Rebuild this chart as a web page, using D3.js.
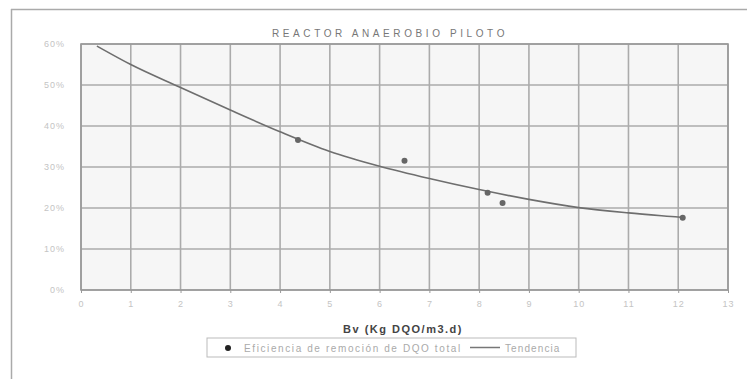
<!DOCTYPE html>
<html>
<head>
<meta charset="utf-8">
<script src="https://cdn.jsdelivr.net/npm/d3@7"></script>
<style>
  body { margin: 0; background: #fff; }
  text { font-family: "Liberation Sans", Arial, sans-serif; }
</style>
</head>
<body>
<div id="chart"></div>
<script>
// chart data
var xTicks = [0, 1, 2, 3, 4, 5, 6, 7, 8, 9, 10, 11, 12, 13];
var yTicks = [0, 10, 20, 30, 40, 50, 60];

// measured points: Bv vs removal efficiency (%)
var bv = [4.36, 6.5, 8.17, 8.47, 12.09];
var efficiency = [36.6, 31.5, 23.7, 21.2, 17.6];

// trend line as it is drawn in the picture
var trendX = [0.32, 1, 2, 3, 4, 5, 6, 7, 8, 9, 10, 11, 12, 12.1];
var trendY = [59.5, 55.0, 49.4, 43.9, 38.6, 33.8, 30.2, 27.2, 24.5, 22.1, 20.1, 18.8, 17.8, 17.7];

var svgWidth = 747;
var svgHeight = 379;

var margin = { top: 44, right: 19, bottom: 89, left: 81 };
var width = svgWidth - margin.left - margin.right;
var height = svgHeight - margin.top - margin.bottom;

var svg = d3.select("#chart")
  .append("svg")
  .attr("width", svgWidth)
  .attr("height", svgHeight);

// outer chart frame (top and left edge visible in the scan)
svg.append("line")
  .attr("x1", 11).attr("x2", svgWidth).attr("y1", 9.5).attr("y2", 9.5)
  .attr("stroke", "#aaa").attr("stroke-width", 1.5);
svg.append("line")
  .attr("x1", 11.5).attr("x2", 11.5).attr("y1", 9).attr("y2", svgHeight)
  .attr("stroke", "#aaa").attr("stroke-width", 1.5);

var chartGroup = svg.append("g")
  .attr("transform", `translate(${margin.left}, ${margin.top})`);

var xScale = d3.scaleLinear().domain([0, 13]).range([0, width]);
var yScale = d3.scaleLinear().domain([0, 60]).range([height, 0]);

// plot background
chartGroup.append("rect")
  .attr("width", width).attr("height", height)
  .attr("fill", "#f6f6f6");

// gridlines
chartGroup.append("g")
  .selectAll("line")
  .data(yTicks)
  .enter()
  .append("line")
  .attr("x1", 0).attr("x2", width)
  .attr("y1", d => yScale(d)).attr("y2", d => yScale(d))
  .attr("stroke", "#ababab").attr("stroke-width", 1.6);

chartGroup.append("g")
  .selectAll("line")
  .data(xTicks)
  .enter()
  .append("line")
  .attr("x1", d => xScale(d)).attr("x2", d => xScale(d))
  .attr("y1", 0).attr("y2", height)
  .attr("stroke", "#ababab").attr("stroke-width", 1.6);

// plot border
chartGroup.append("rect")
  .attr("width", width).attr("height", height)
  .attr("fill", "none")
  .attr("stroke", "#999").attr("stroke-width", 1.6);

// axes
var bottomAxis = d3.axisBottom(xScale).tickValues(xTicks).tickSize(3).tickPadding(8).tickFormat(d3.format("d"));
var leftAxis = d3.axisLeft(yScale).tickValues(yTicks).tickSize(0).tickPadding(16).tickFormat(d => d + "%");

var xAxisG = chartGroup.append("g")
  .attr("transform", `translate(0, ${height})`)
  .call(bottomAxis);
var yAxisG = chartGroup.append("g").call(leftAxis);

[xAxisG, yAxisG].forEach(function (g) {
  g.select(".domain").remove();
  g.selectAll(".tick line").attr("stroke", "#999");
  g.selectAll("text")
    .attr("fill", "#c4c4c4")
    .style("font-size", "9px")
    .style("letter-spacing", "1px");
});

// trend line
var line = d3.line()
  .x(d => xScale(d[0]))
  .y(d => yScale(d[1]))
  .curve(d3.curveMonotoneX);

chartGroup.append("path")
  .datum(d3.zip(trendX, trendY))
  .attr("d", line)
  .attr("fill", "none")
  .attr("stroke", "#6e6e6e")
  .attr("stroke-width", 1.6);

// data points
chartGroup.selectAll("circle.pt")
  .data(d3.zip(bv, efficiency))
  .enter()
  .append("circle")
  .attr("class", "pt")
  .attr("cx", d => xScale(d[0]))
  .attr("cy", d => yScale(d[1]))
  .attr("r", 3)
  .attr("fill", "#666");

// title
svg.append("text")
  .attr("x", 390).attr("y", 37)
  .attr("text-anchor", "middle")
  .attr("fill", "#777")
  .style("font-size", "10px")
  .style("letter-spacing", "3.6px")
  .text("REACTOR ANAEROBIO PILOTO");

// x axis title
svg.append("text")
  .attr("x", 403).attr("y", 333)
  .attr("text-anchor", "middle")
  .attr("fill", "#444")
  .style("font-size", "11px")
  .style("font-weight", "bold")
  .style("letter-spacing", "1.5px")
  .text("Bv (Kg DQO/m3.d)");

// legend
var legend = svg.append("g").attr("transform", "translate(207, 338)");
legend.append("rect")
  .attr("width", 369).attr("height", 19)
  .attr("fill", "#fff")
  .attr("stroke", "#bbb");
legend.append("circle")
  .attr("cx", 21).attr("cy", 10).attr("r", 3)
  .attr("fill", "#222");
legend.append("text")
  .attr("x", 37).attr("y", 13.5)
  .attr("fill", "#aaa")
  .style("font-size", "10px")
  .style("letter-spacing", "1.6px")
  .text("Eficiencia de remoción de DQO total");
legend.append("line")
  .attr("x1", 263).attr("x2", 293).attr("y1", 9.5).attr("y2", 9.5)
  .attr("stroke", "#777").attr("stroke-width", 1.5);
legend.append("text")
  .attr("x", 298).attr("y", 13.5)
  .attr("fill", "#aaa")
  .style("font-size", "10px")
  .style("letter-spacing", "1.1px")
  .text("Tendencia");
</script>
</body>
</html>
